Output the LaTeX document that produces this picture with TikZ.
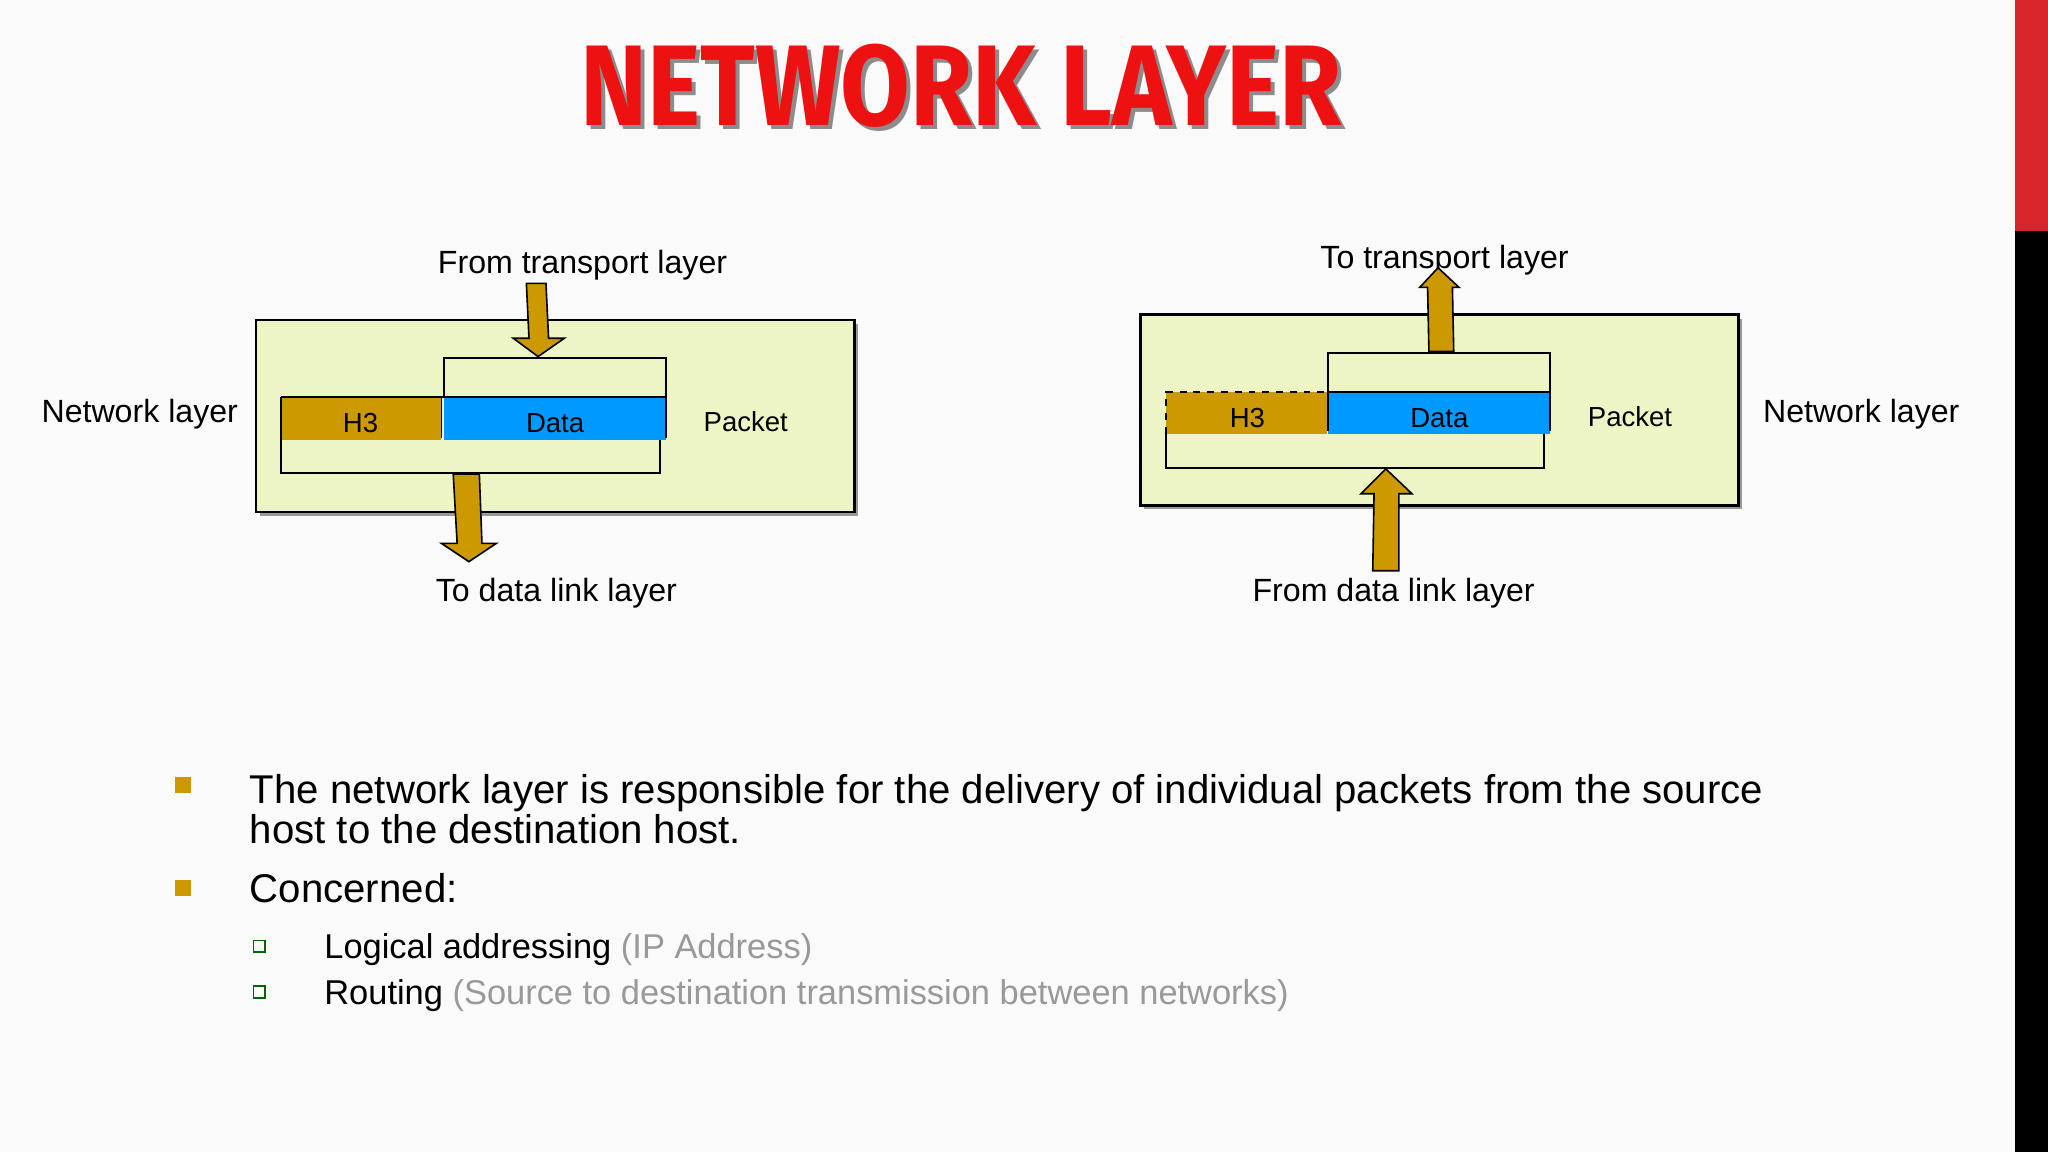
\documentclass[tikz,border=0pt]{standalone}
\usepackage{fontspec}
\setmainfont{Liberation Sans}
\newfontfamily\titlefont{Fira Sans}
\definecolor{gold}{HTML}{CC9900}
\definecolor{blu}{HTML}{0099FF}
\definecolor{pale}{HTML}{EEF5C4}
\definecolor{tred}{HTML}{EE1111}
\definecolor{bar}{HTML}{D9262C}
\definecolor{grayt}{HTML}{999999}
\tikzset{
  outer/.style={draw=black, line width=1.2pt, fill=pale},
  frm/.style={draw=black, line width=0.8pt},
  arr/.style={draw=black, line width=0.7pt, fill=gold, line join=miter},
  lbl/.style={font=\fontsize{14}{16}\selectfont, inner sep=0pt},
  sml/.style={font=\fontsize{12}{14}\selectfont, inner sep=0pt},
}
\begin{document}
\begin{tikzpicture}[x=0.02cm,y=-0.02cm]
\useasboundingbox (0,0) rectangle (1568,882);
\fill[white!98!black] (0,0) rectangle (1568,882);
\fill[bar] (1543,0) rectangle (1568,177);
\fill[black] (1543,177) rectangle (1568,882);
% title
\node[font=\titlefont\bfseries\fontsize{50}{54}\selectfont, text=black!45, xscale=0.88, inner sep=0] at (739,69) {NETWORK LAYER};
\node[font=\titlefont\bfseries\fontsize{50}{54}\selectfont, text=tred, xscale=0.88, inner sep=0] (title) at (736,66) {NETWORK LAYER};
% ===== left diagram
\fill[black!40] (199,248) rectangle (657,395);
\draw[outer] (196,245) rectangle (654,392);
\draw[frm] (340,305) -- (340,274) -- (510,274) -- (510,305);
\fill[gold] (215,304) rectangle (338,337);
\fill[blu] (340,304) rectangle (510,337);
\draw[frm] (215,304) -- (510,304) -- (510,335);
\draw[frm] (338,304) -- (338,335);
\draw[frm] (215,304) -- (215,362) -- (505,362) -- (505,337);
\node[sml] (lh) at (276,324) {H3};
\node[sml] (ld) at (425,324) {Data};
\node[sml] (lp) at (571,323) {Packet};
\draw[arr] (403,217) -- (418,217) -- (420,259) -- (432,259) -- (412,273) -- (393,259) -- (405,259) -- cycle;
\draw[arr] (347,363) -- (367,363) -- (369,416) -- (380,416) -- (359,430) -- (338,416) -- (350,416) -- cycle;
\node[lbl] (lt) at (446,203) {From transport layer};
\node[lbl] (lb) at (426,454) {To data link layer};
\node[lbl] (ln) at (107,317) {Network layer};
% ===== right diagram
\fill[black!40] (876,244) rectangle (1334,390);
\draw[outer] (873,241) rectangle (1331,387);
\draw[frm] (1017,300) -- (1017,270) -- (1187,270) -- (1187,300);
\fill[gold] (893,300) rectangle (1016,332);
\fill[blu] (1017,300) rectangle (1187,332);
\draw[frm, dashed] (893,332) -- (893,300) -- (1017,300);
\draw[frm] (1017,300) -- (1187,300) -- (1187,330);
\draw[frm] (1017,300) -- (1017,330);
\draw[frm] (893,332) -- (893,358) -- (1182,358) -- (1182,332);
\node[sml] (rh) at (955,320) {H3};
\node[sml] (rd) at (1102,320) {Data};
\node[sml] (rp) at (1248,319) {Packet};
\node[lbl] (rt) at (1106,199) {To transport layer};
\draw[arr] (1094,269) -- (1113,269) -- (1112,220) -- (1117,220) -- (1101,205) -- (1087,220) -- (1093,220) -- cycle;
\draw[arr] (1051,437) -- (1071,437) -- (1071,378) -- (1081,378) -- (1061,359) -- (1042,378) -- (1052,378) -- cycle;
\node[lbl] (rb) at (1067,454) {From data link layer};
\node[lbl] (rn) at (1425,317) {Network layer};
% ===== bullets
\fill[gold] (134,595) rectangle (146,607);
\fill[gold] (134,674) rectangle (146,686);
\node[anchor=base west, font=\fontsize{17.5}{18}\selectfont, inner sep=0, align=left] (b1) at (191,615) {The network layer is responsible for the delivery of individual packets from the source};
\node[anchor=base west, font=\fontsize{17.5}{18}\selectfont, inner sep=0] (b1b) at (191,646) {host to the destination host.};
\node[anchor=base west, font=\fontsize{17.5}{18}\selectfont, inner sep=0] (b2) at (191,691) {Concerned:};
\draw[draw=green!40!black, line width=0.6pt] (194,720) rectangle (203,729);
\draw[draw=green!40!black, line width=0.6pt] (194,755) rectangle (203,764);
\node[anchor=base west, font=\fontsize{15}{16}\selectfont, inner sep=0] (s1) at (248,734) {Logical addressing \textcolor{grayt}{(IP Address)}};
\node[anchor=base west, font=\fontsize{15}{16}\selectfont, inner sep=0] (s2) at (248,769) {Routing \textcolor{grayt}{(Source to destination transmission between networks)}};
\end{tikzpicture}
\end{document}
